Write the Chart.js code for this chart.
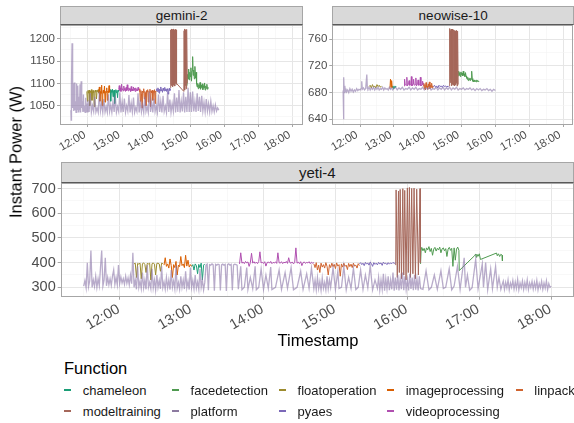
<!DOCTYPE html>
<html>
<head>
<meta charset="utf-8">
<title>Instant power per function</title>
<script src="https://cdn.jsdelivr.net/npm/chart.js@4.4.1/dist/chart.umd.min.js"></script>
<style>
  body { margin: 0; background: #fff; font-family: "Liberation Sans", Arial, Helvetica, sans-serif; }
  #page { position: relative; width: 574px; height: 423px; overflow: hidden; }
  canvas { position: absolute; }
  .strip {
    position: absolute; box-sizing: border-box; background: #d9d9d9;
    border: 1px solid #a6a6a6; border-bottom: 1px solid #595959;
    color: #1a1a1a; display: flex; align-items: center; justify-content: center;
  }
  .title { position: absolute; color: #000; white-space: nowrap; }
  .key { position: absolute; width: 7px; height: 2px; }
  .lab { position: absolute; font-size: 13px; color: #1a1a1a; white-space: nowrap; transform: translateY(-50%); }
</style>
</head>
<body>
<div id="page">
  <canvas id="gemini" width="310" height="150" style="left:0;top:14px"></canvas>
  <canvas id="neowise" width="304" height="150" style="left:270px;top:14px"></canvas>
  <canvas id="yeti" width="574" height="170" style="left:0;top:170px"></canvas>

  <div class="strip" style="left:60px;top:6px;width:243.3px;height:18.5px;font-size:13.5px">gemini-2</div>
  <div class="strip" style="left:332.3px;top:6px;width:241.7px;height:18.5px;font-size:13.5px">neowise-10</div>
  <div class="strip" style="left:60.7px;top:162px;width:513.3px;height:20.5px;font-size:15px">yeti-4</div>

  <div class="title" style="left:16px;top:152px;font-size:16.5px;transform:translate(-50%,-50%) rotate(-90deg)">Instant Power (W)</div>
  <div class="title" style="left:318px;top:340px;font-size:16.5px;transform:translate(-50%,-50%)">Timestamp</div>
  <div class="title" style="left:64px;top:368px;font-size:16.5px;transform:translateY(-50%)">Function</div>
  <div id="legend"></div>
</div>

<script>
/* ── Data: time in minutes after 11:00, power in W ── */
const functions = ['chameleon', 'facedetection', 'floatoperation', 'imageprocessing', 'linpack',
                   'modeltraining', 'platform', 'pyaes', 'videoprocessing'];
const colors = ['#1b9e77', '#4f9a50', '#9c8b2e', '#d95f02', '#d0642f',
                '#a5675a', '#8c7aa0', '#7b68b8', '#b04fb0'];
const hourTicks = [60, 120, 180, 240, 300, 360, 420];
const hourLabels = ['12:00', '13:00', '14:00', '15:00', '16:00', '17:00', '18:00'];

// gemini-2
const geminiPlatform = [[30,1040],[30.5,1018],[31,1100],[32,1190],[33,1045],[34,1100],[35,1038],[36,1102],[37,1040],[38,1060],
  [39,1035],[40,1100],[41,1042],[42,1095],[43,1036],[44,1070],[45,1040],[46,1098],[47,1035],[48,1105],[49,1045],[50,1060],
  [51,1036],[52,1075],[53,1038],[54,1050],[55,1035],[56,1068],[57,1037],[58,1055],[59,1036],[60,1062],[62,1036],[64,1078],
  [66,1035],[68,1050],[70,1037],[72,1070],[74,1036],[76,1045],[78,1035],[80,1082],[82,1038],[84,1055],[86,1035],[88,1065],
  [90,1036],[92,1048],[94,1035],[96,1075],[98,1037],[100,1052],[102,1035],[104,1060],[106,1036],[108,1072],[110,1035],
  [112,1048],[114,1037],[116,1080],[118,1035],[120,1058],[122,1036],[124,1066],[126,1035],[128,1050],[130,1038],[132,1074],
  [134,1035],[136,1056],[138,1036],[140,1068],[142,1035],[144,1046],[146,1037],[148,1078],[150,1035],[152,1062],[154,1036],
  [156,1052],[158,1035],[160,1070],[162,1037],[164,1048],[166,1035],[168,1082],[170,1036],[172,1058],[174,1035],[176,1066],
  [178,1037],[180,1050],[182,1035],[184,1075],[186,1036],[188,1060],[190,1035],[192,1072],[194,1037],[196,1049],[198,1035],
  [200,1080],[202,1036],[204,1064],[206,1035],[208,1055],[210,1038],[212,1078],[214,1035],[216,1068],[218,1036],[220,1085],
  [222,1035],[224,1060],[226,1037],[228,1080],[230,1035],[232,1070],[234,1036],[236,1090],[238,1036],[240,1080],[242,1036],
  [244,1082],[246,1037],[248,1060],[250,1036],[252,1078],[254,1038],[256,1070],[258,1036],[260,1072],[262,1038],[264,1058],
  [266,1036],[268,1065],[270,1038],[272,1055],[274,1036],[276,1060],[278,1037],[280,1050],[282,1036],[284,1052],[286,1038],
  [288,1045],[290,1040]];
const geminiFloatoperation = [[58,1082],[59,1060],[60,1084],[61,1078],[62,1085],[63,1050],[64,1083],[65,1080],[66,1086],
  [67,1062],[68,1082],[69,1084],[70,1079],[71,1048],[72,1083],[73,1085],[74,1080],[75,1065],[76,1084],[77,1082],[78,1086],[79,1078]];
const geminiImageprocessing = [[79,1080],[80,1092],[81,1060],[82,1082],[83,1078],[84,1096],[85,1050],[86,1080],[87,1085],
  [88,1078],[89,1094],[90,1058],[91,1082],[92,1080],[93,1090],[94,1062],[95,1083],[96,1079],[97,1095],[98,1080]];
const geminiChameleon = [[98,1082],[99,1086],[100,1060],[101,1084],[102,1080],[103,1087],[104,1070],[105,1083],[106,1085],
  [107,1055],[108,1082],[109,1086],[110,1079],[111,1084],[112,1068],[113,1085],[114,1082]];
const geminiVideoprocessing = [[114,1086],[115,1095],[116,1084],[117,1090],[118,1082],[119,1098],[120,1086],[121,1088],
  [122,1083],[123,1094],[124,1085],[125,1089],[126,1082],[127,1091],[128,1084],[129,1097],[130,1086],[131,1083],[132,1090],
  [133,1085],[134,1088],[135,1082],[136,1093],[137,1084],[138,1087],[139,1083],[140,1092],[141,1085],[142,1089],[143,1082],
  [144,1090],[145,1084],[146,1087],[147,1083],[148,1091],[149,1085],[150,1086]];
const geminiLinpack = [[150,1082],[151,1088],[152,1060],[153,1084],[154,1078],[155,1045],[156,1083],[157,1080],[158,1088],
  [159,1065],[160,1082],[161,1079],[162,1050],[163,1084],[164,1081],[165,1086],[166,1058],[167,1082],[168,1080],[169,1087],
  [170,1048],[171,1083],[172,1079],[173,1085],[174,1062],[175,1082],[176,1080],[177,1086],[178,1055],[179,1083],[180,1081]];
const geminiPyaes = [[180,1084],[181,1088],[182,1082],[183,1090],[184,1085],[185,1078],[186,1087],[187,1083],[188,1092],
  [189,1084],[190,1086],[191,1080],[192,1089],[193,1085],[194,1083],[195,1091],[196,1084],[197,1087],[198,1082],[199,1088],
  [200,1085],[201,1076],[202,1086],[203,1089],[204,1084],[205,1087]];
const geminiModeltraining = [[205,1090],[205.5,1220],[206,1100],[206.5,1222],[207,1095],[207.5,1218],[208,1105],[208.5,1221],
  [209,1092],[209.5,1219],[210,1100],[210.5,1222],[211,1096],[211.5,1217],[212,1104],[212.5,1220],[213,1094],[213.5,1221],
  [214,1100],[214.5,1218],[215,1098],[215.5,1220],[216,1100],[228.5,1082],[229,1218],[229.5,1090],[230,1222],[230.5,1085],
  [231,1220],[231.5,1095],[232,1219],[232.5,1088],[233,1221],[233.5,1092],[234,1218],[234.5,1100]];
const geminiFacedetection = [[234,1095],[235,1120],[236,1110],[237,1132],[238,1108],[239,1125],[240,1115],[241,1135],
  [242,1105],[243,1128],[244,1160],[245,1118],[246,1130],[247,1110],[248,1138],[249,1112],[250,1125],[251,1098],[252,1092],
  [253,1100],[254,1088],[255,1097],[256,1090],[257,1102],[258,1087],[259,1096],[260,1091],[261,1099],[262,1086],[263,1095],
  [264,1090],[265,1101],[266,1085],[267,1094],[268,1089],[269,1098],[270,1087],[271,1092]];

// neowise-10
const neowisePlatform = [[30,683],[30.5,700],[31,640],[31.5,703],[32,680],[33,690],[34,682],[35,686],[36,681],[38,684],
  [40,680],[42,686],[44,682],[46,685],[48,681],[50,684],[52,682],[54,686],[56,683],[58,685],[60,684],[62,686],[63,697],
  [64,685],[66,687],[68,684],[70,686],[72,707],[73,686],[74,685],[76,688],[78,684],[80,687],[82,685],[84,688],[86,684],
  [88,687],[90,685],[92,688],[94,684],[96,686],[98,685],[100,688],[102,684],[104,687],[106,685],[108,686],[110,684],
  [112,688],[114,685],[116,687],[118,684],[120,686],[123,688],[126,684],[129,687],[132,685],[135,688],[138,684],[141,686],
  [144,685],[147,688],[150,684],[153,687],[156,685],[159,688],[162,684],[165,686],[168,685],[171,688],[174,684],[177,687],
  [180,685],[183,688],[186,684],[189,686],[192,685],[195,688],[198,684],[201,687],[204,685],[207,688],[210,684],[213,687],
  [216,685],[219,688],[222,684],[225,687],[228,685],[231,688],[234,684],[237,686],[240,685],[243,687],[246,684],[249,686],
  [252,685],[255,687],[258,684],[261,686],[264,683],[267,686],[270,684],[273,686],[276,683],[279,685],[282,684],[285,686],
  [288,683],[291,685],[294,682],[297,685],[300,683]];
const neowiseFloatoperation = [[76,689],[78,691],[80,687],[82,692],[84,688],[86,690],[88,687],[90,692],[92,689],[94,691],
  [96,688],[98,690]];
const neowiseImageprocessing = [[113,686],[114,700],[115,688],[116,698],[117,687]];
const neowiseChameleon = [[117,688],[118,690],[119,686],[120,689],[121,687],[122,690],[123,688],[124,689]];
const neowiseVideoprocessing = [[138,690],[139,700],[140,692],[142,691],[143,703],[144,690],[146,693],[147,698],[148,691],
  [150,692],[151,704],[152,690],[154,693],[155,700],[156,691],[158,692],[159,702],[160,690],[162,693],[163,699],[164,691],
  [166,692],[167,703],[168,690],[170,692],[171,697],[172,691]];
const neowiseLinpack = [[172,690],[173,694],[174,686],[175,692],[176,684],[177,695],[178,688],[179,690],[180,685],[181,693],
  [182,689],[183,696],[184,686],[185,691],[186,688],[187,694],[188,687],[189,690],[190,689]];
const neowisePyaes = [[190,689],[192,691],[194,688],[196,690],[198,687],[200,691],[202,689],[204,690],[206,688],[208,691],
  [210,689],[212,690],[214,688],[216,690],[217,689]];
const neowiseModeltraining = [[218,690],[218.5,774],[219,692],[219.5,776],[220,695],[220.5,773],[221,700],[221.5,775],
  [222,690],[222.5,772],[223,696],[223.5,775],[224,692],[224.5,771],[225,698],[225.5,774],[226,691],[226.5,772],[227,695],
  [227.5,773],[228,690],[228.5,772],[229,697],[229.5,771],[230,692],[230.5,773],[231,694],[231.5,770],[232,690],[232.5,772],
  [233,695],[233.5,770],[234,692]];
const neowiseFacedetection = [[234,705],[235,712],[236,706],[237,710],[238,704],[239,711],[240,707],[241,709],[242,705],
  [243,712],[244,706],[245,708],[246,704],[247,710],[248,705],[249,702],[250,700],[251,703],[252,698],[253,701],[254,699],
  [255,702],[256,698],[257,700],[258,712],[259,701],[260,697],[261,698],[262,696],[263,699],[264,697],[265,698],[266,696],
  [267,699],[268,697],[269,698],[270,696],[271,697]];

// yeti-4
const yetiPlatform = [[30,305],[31,328],[32,298],[33,400],[34,302],[35,326],[36,449],[37,300],[38,330],[39,304],[40,345],
  [41,300],[42,335],[43,306],[44,380],[45,449],[46,305],[47,330],[48,420],[49,306],[50,340],[51,310],[52,335],[53,308],
  [54,345],[55,370],[56,312],[57,340],[58,310],[59,390],[60,315],[61,342],[62,318],[63,335],[64,312],[65,345],[66,316],
  [67,338],[68,310],[69,350],[70,315],[71,440],[72,300],[73,330],[74,292],[75,385],[76,300],[77,325],[78,295],[79,360],
  [80,298],[81,330],[82,292],[83,390],[84,300],[85,320],[86,295],[87,375],[88,298],[89,330],[90,290],[91,350],[92,300],
  [93,328],[94,294],[95,385],[96,299],[97,322],[98,293],[99,340],[100,298],[101,330],[102,291],[103,370],[104,300],[105,326],
  [106,294],[107,388],[108,297],[109,320],[110,292],[111,345],[112,300],[113,330],[114,293],[115,365],[116,298],[117,325],
  [118,291],[119,380],[120,300],[121,328],[122,294],[123,350],[124,297],[125,322],[126,292],[127,375],[128,300],[129,330],
  [130,290],[131,320],[132,390],[133,394],[134,288],[135,392],[136,390],[137,395],[138,391],[139,286],[140,393],[141,390],
  [142,394],[143,392],[144,287],[145,391],[146,394],[147,390],[148,393],[149,285],[150,392],[151,395],[152,390],[153,393],
  [154,288],[155,391],[156,394],[157,392],[158,390],[159,292],[161,385],[162,290],[164,300],[166,380],[167,292],[169,340],
  [171,295],[173,385],[174,290],[176,300],[178,375],[180,292],[182,350],[184,296],[186,382],[187,291],[190,300],[193,370],
  [195,292],[198,360],[200,296],[203,380],[205,290],[208,300],[211,365],[213,292],[216,355],[218,296],[220,378],[222,295],
  [223,330],[224,290],[225,340],[226,295],[227,325],[228,288],[229,338],[230,296],[231,320],[232,290],[233,345],[234,294],
  [235,330],[236,300],[238,380],[240,292],[242,365],[243,295],[245,300],[247,385],[249,290],[251,340],[253,296],[255,378],
  [257,291],[259,300],[261,370],[263,292],[265,350],[267,298],[269,388],[271,290],[273,330],[275,296],[276,340],[277,288],
  [278,330],[279,292],[280,355],[281,286],[282,335],[283,294],[284,345],[285,288],[286,330],[287,292],[288,360],[289,286],
  [290,340],[291,290],[292,350],[293,287],[294,335],[295,292],[296,360],[297,288],[298,345],[299,291],[300,330],[301,287],
  [302,355],[303,293],[304,340],[305,288],[306,350],[307,290],[308,335],[309,287],[310,345],[311,295],[313,292],[315.6,367],
  [318,290],[320,300],[322.5,350],[325,292],[328,367],[330,295],[332,300],[334.9,375],[337,290],[339,305],[341.8,385],
  [344,292],[347.4,420],[348.5,300],[350.1,350],[352,288],[354,298],[357,414],[359,295],[362.5,395],[363.5,300],[365.3,400],
  [367,290],[369.5,375],[371,295],[373.6,385],[375,300],[376.4,340],[378,292],[379,310],[380,325],[381,292],[382,320],
  [383,298],[384,330],[385,290],[386,318],[387,300],[388,328],[389,293],[390,322],[391,296],[392,332],[393,290],[394,318],
  [395,299],[396,326],[397,292],[398,320],[399,297],[400,330],[401,291],[402,318],[403,300],[404,324],[405,293],[406,320],
  [407,296],[408,328],[409,290],[410,316],[411,298],[412,325],[413,292],[414,318],[415,297],[416,326],[417,291],[418,315],
  [419,300],[420,305]];
const yetiFloatoperation = [[72,395],[73,398],[74,340],[75,397],[76,394],[77,398],[78,335],[79,396],[80,399],[81,393],
  [82,360],[83,397],[84,395],[85,398],[86,330],[87,396],[88,399],[89,394],[90,350],[91,397],[92,398],[93,395],[94,365],
  [95,398],[96,396]];
const yetiImageprocessing = [[97,390],[98,420],[99,385],[100,395],[101,378],[102,415],[103,388],[104,340],[105,392],
  [106,380],[107,405],[108,350],[109,390],[110,384],[111,425],[112,388],[113,395],[114,380],[115,430],[116,386],[117,410],
  [118,382],[119,392],[120,385]];
const yetiChameleon = [[120,385],[121,392],[122,370],[123,395],[124,388],[125,355],[126,393],[127,380],[128,398],[129,330],
  [130,390],[131,395]];
const yetiVideoprocessing = [[160,395],[161,440],[162,398],[163,402],[164,396],[165,405],[166,399],[167,403],[168,385],
  [169,400],[170,438],[171,398],[172,404],[173,397],[174,402],[175,396],[176,405],[177,444],[178,399],[179,401],[180,397],
  [181,404],[182,386],[183,400],[184,403],[185,398],[186,405],[187,396],[188,401],[189,399],[190,403],[191,397],[192,440],
  [193,400],[194,398],[195,404],[196,396],[197,402],[198,399],[199,405],[200,397],[201,420],[202,400],[203,398],[204,403],
  [205,395],[206,401],[207,460],[208,398],[209,402],[210,396],[211,404],[212,388],[213,400],[214,403],[215,397],[216,401],
  [217,399],[218,404],[219,396],[220,402],[221,398],[222,400]];
const yetiLinpack = [[222,395],[223,380],[224,400],[225,370],[226,390],[227,360],[228,398],[229,382],[230,392],[231,378],
  [232,400],[233,385],[234,350],[235,392],[236,380],[237,398],[238,384],[239,393],[240,376],[241,399],[242,386],[243,392],
  [244,345],[245,395],[246,382],[247,398],[248,385],[249,390],[250,372],[251,397],[252,384],[253,394],[254,380],[255,398],
  [256,386],[257,390],[258,378],[259,396],[260,388]];
const yetiPyaes = [[260,395],[261,400],[262,392],[263,398],[264,388],[265,401],[266,394],[267,399],[268,390],[269,402],
  [270,396],[271,385],[272,400],[273,393],[274,398],[275,391],[276,401],[277,395],[278,399],[279,389],[280,402],[281,396],
  [282,398],[283,392],[284,400],[285,394],[286,399],[287,396],[288,401],[289,397],[290,399]];
const yetiModeltraining = [[290.3,390],[290.6,695],[291.6,340],[292.6,690],[293.3,360],[294,697],[295.1,335],[296.2,700],
  [297,350],[297.8,693],[298.9,330],[300,703],[300.8,360],[301.7,705],[302.6,340],[303.6,701],[304.6,355],[305.6,702],
  [306.7,335],[307.8,698],[309.2,350],[310.6,700],[310.8,400]];
const yetiFacedetection = [[311,395],[311.5,455],[312,462],[313,448],[314,458],[315,440],[316,460],[317,452],[318,465],
  [319,445],[320,458],[321,430],[322,455],[323,462],[324,447],[325,458],[326,452],[327,463],[328,440],[329,456],[330,460],
  [331,448],[332,457],[333,425],[334,455],[335,462],[336,450],[337,458],[338,385],[339,460],[340,410],[341,455],[342,463],
  [343,450],[343.3,368],[356,428],[357,435],[357.5,422],[358,434],[359,426],[360,436],[361,413],[374.4,439],[375,428],
  [376,436],[377,425],[378,434],[379,430],[379.3,407]];

const geminiSeries = [geminiChameleon, geminiFacedetection, geminiFloatoperation, geminiImageprocessing, geminiLinpack,
  geminiModeltraining, geminiPlatform, geminiPyaes, geminiVideoprocessing];
const neowiseSeries = [neowiseChameleon, neowiseFacedetection, neowiseFloatoperation, neowiseImageprocessing, neowiseLinpack,
  neowiseModeltraining, neowisePlatform, neowisePyaes, neowiseVideoprocessing];
const yetiSeries = [yetiChameleon, yetiFacedetection, yetiFloatoperation, yetiImageprocessing, yetiLinpack,
  yetiModeltraining, yetiPlatform, yetiPyaes, yetiVideoprocessing];

const X_MIN = 10.8, X_MAX = 438.6;

/* ── Panel border drawn over the data, like ggplot ── */
const panelBox = {
  id: 'panelBox',
  afterDraw(chart) {
    const { ctx, chartArea: a } = chart;
    ctx.save();
    ctx.strokeStyle = '#a6a6a6';
    ctx.lineWidth = 1;
    ctx.strokeRect(Math.round(a.left) + 0.5, Math.round(a.top) + 0.5,
                   Math.round(a.width) - 1, Math.round(a.height) - 1);
    ctx.restore();
  },
};

// true when v sits on a multiple of step (tolerant to float noise)
function onStep(v, step) {
  const r = v / step;
  return Math.abs(r - Math.round(r)) < 1e-6;
}

function makePanel(id, series, cfg) {
  const datasets = series.map((data, i) => {
    const isPlatform = functions[i] === 'platform';
    return {
      label: functions[i],
      data: data,
      borderColor: isPlatform ? 'rgba(140,120,170,0.62)' : colors[i],
      borderWidth: isPlatform ? 1.3 : 1,
      pointRadius: 0,
      tension: 0,
      order: -i,
    };
  });

  const isMajorX = (v) => hourTicks.includes(Math.round(v));
  const isMajorY = (v) => onStep(v, cfg.yMajor);

  new Chart(document.getElementById(id), {
    type: 'line',
    data: { datasets },
    plugins: [panelBox],
    options: {
      responsive: false,
      animation: false,
      events: [],
      layout: { padding: { top: cfg.padTop, right: cfg.padRight, left: 0, bottom: 0 } },
      plugins: { legend: { display: false }, tooltip: { enabled: false } },
      scales: {
        x: {
          type: 'linear',
          min: X_MIN,
          max: X_MAX,
          border: { display: false },
          grid: {
            color: (c) => (c.tick && isMajorX(c.tick.value) ? '#e6e6e6' : '#f3f3f3'),
            lineWidth: (c) => (c.tick && isMajorX(c.tick.value) ? 1 : 0.6),
            tickLength: 3,
            tickColor: (c) => (c.tick && isMajorX(c.tick.value) ? '#a6a6a6' : 'rgba(0,0,0,0)'),
          },
          ticks: {
            stepSize: 30,
            includeBounds: false,
            autoSkip: false,
            maxTicksLimit: 100,
            minRotation: 30,
            maxRotation: 30,
            padding: 1,
            labelOffset: cfg.xLabelShift,
            color: '#4d4d4d',
            font: { family: 'Liberation Sans', size: cfg.font },
            callback: (v) => { const k = hourTicks.indexOf(Math.round(v)); return k >= 0 ? hourLabels[k] : ''; },
          },
          afterFit: (s) => { s.height = cfg.xHeight; s.paddingLeft = 0; s.paddingRight = 0; },
        },
        y: {
          type: 'linear',
          min: cfg.yMin,
          max: cfg.yMax,
          border: { display: false },
          grid: {
            color: (c) => (c.tick && isMajorY(c.tick.value) ? '#e6e6e6' : '#f3f3f3'),
            lineWidth: (c) => (c.tick && isMajorY(c.tick.value) ? 1 : 0.6),
            tickLength: 3,
            tickColor: (c) => (c.tick && isMajorY(c.tick.value) ? '#a6a6a6' : 'rgba(0,0,0,0)'),
          },
          ticks: {
            stepSize: cfg.yMajor / 2,
            includeBounds: false,
            autoSkip: false,
            maxTicksLimit: 100,
            padding: 2,
            color: '#4d4d4d',
            font: { family: 'Liberation Sans', size: cfg.font },
            callback: (v) => (isMajorY(v) ? String(Math.round(v)) : ''),
          },
          afterFit: (s) => { s.width = cfg.yWidth; s.paddingTop = 0; s.paddingBottom = 0; },
        },
      },
    },
  });
}

makePanel('gemini', geminiSeries, { padTop: 10.5, padRight: 6.7, yWidth: 60, xHeight: 40,
  yMin: 1009, yMax: 1232, yMajor: 50, font: 11.5, xLabelShift: -3 });
makePanel('neowise', neowiseSeries, { padTop: 10.5, padRight: 0.5, yWidth: 62.3, xHeight: 40,
  yMin: 633, yMax: 782, yMajor: 40, font: 11.5, xLabelShift: -3 });
makePanel('yeti', yetiSeries, { padTop: 12.5, padRight: 0.5, yWidth: 60.7, xHeight: 43.3,
  yMin: 262, yMax: 725, yMajor: 100, font: 14.5, xLabelShift: -1 });

/* ── Legend (two rows, five columns) ── */
const legendKeyX = [64.4, 171.8, 279, 387.2, 515.6];
const legendTextX = [82.8, 190.6, 297.6, 405.7, 534.3];
const legendRowY = [390, 411];
const legend = document.getElementById('legend');
functions.forEach((name, i) => {
  const row = Math.floor(i / 5), col = i % 5;
  const key = document.createElement('div');
  key.className = 'key';
  key.style.left = legendKeyX[col] + 'px';
  key.style.top = (legendRowY[row] - 1) + 'px';
  key.style.background = colors[i];
  legend.appendChild(key);
  const lab = document.createElement('div');
  lab.className = 'lab';
  lab.style.left = legendTextX[col] + 'px';
  lab.style.top = legendRowY[row] + 'px';
  lab.textContent = name;
  legend.appendChild(lab);
});
</script>
</body>
</html>
